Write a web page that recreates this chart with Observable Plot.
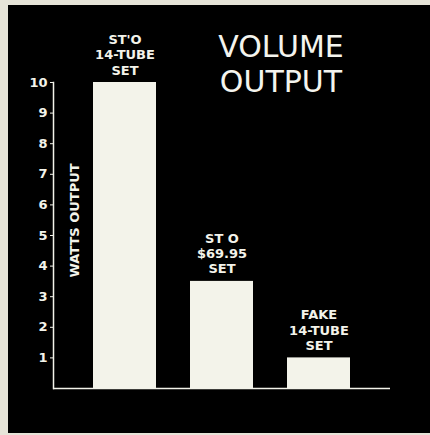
<!DOCTYPE html>
<html>
<head>
<meta charset="utf-8">
<script src="https://cdn.jsdelivr.net/npm/d3@7"></script>
<script src="https://cdn.jsdelivr.net/npm/@observablehq/plot@0.6"></script>
<style>
  html, body { margin: 0; padding: 0; background: #e6e4d8; width: 430px; height: 435px; overflow: hidden; }
  #wrap { position: absolute; left: 8px; top: 5px; width: 422px; height: 428px; background: #000; }
  #title { position: absolute; left: 196px; width: 170px; top: 29px; text-align: center;
           font-family: "DejaVu Sans", sans-serif; font-size: 30px; line-height: 35px; color: #f4f4ee; letter-spacing: 0px; }
  svg { display: block; }
</style>
</head>
<body>
<div id="wrap"></div>
<div id="title">VOLUME<br>OUTPUT</div>
<script>
const categories = ["ST'O\n14-TUBE\nSET", "ST O\n$69.95\nSET", "FAKE\n14-TUBE\nSET"];
const watts = [10, 3.5, 1];
const yTicks = [1, 2, 3, 4, 5, 6, 7, 8, 9, 10];
const yLabel = "WATTS OUTPUT";

const data = categories.map((c, i) => ({ set: c, watts: watts[i] }));
const ink = "#f3f3ea";
const font = "DejaVu Sans, sans-serif";

const chart = Plot.plot({
  width: 422,
  height: 428,
  marginLeft: 45,
  marginRight: 40,
  marginTop: 77,
  marginBottom: 45,
  style: { background: "#000", color: ink, fontFamily: font },
  x: { domain: categories, paddingInner: 0.35, paddingOuter: 0.4, axis: null },
  y: { domain: [0, 10] },
  marks: [
    Plot.barY(data, { x: "set", y: "watts", fill: ink }),
    Plot.text(data, { x: "set", y: "watts", text: "set", lineAnchor: "bottom", dy: -8,
      fill: ink, fontSize: 13, fontWeight: "bold", lineHeight: 1.17 }),
    Plot.axisY({ ticks: yTicks, tickSize: 3, tickPadding: 3, label: null, stroke: ink,
      fill: ink, fontSize: 13, fontWeight: "bold" }),
    Plot.frame({ anchor: "left", stroke: ink, strokeWidth: 1.5 }),
    Plot.ruleY([0], { stroke: ink, strokeWidth: 1.5 }),
    Plot.text([yLabel], { frameAnchor: "left", text: d => d, rotate: -90, textAnchor: "middle",
      dx: 21, dy: -15, fill: ink, fontSize: 13, fontWeight: "bold" })
  ]
});
document.getElementById("wrap").appendChild(chart);
</script>
</body>
</html>
